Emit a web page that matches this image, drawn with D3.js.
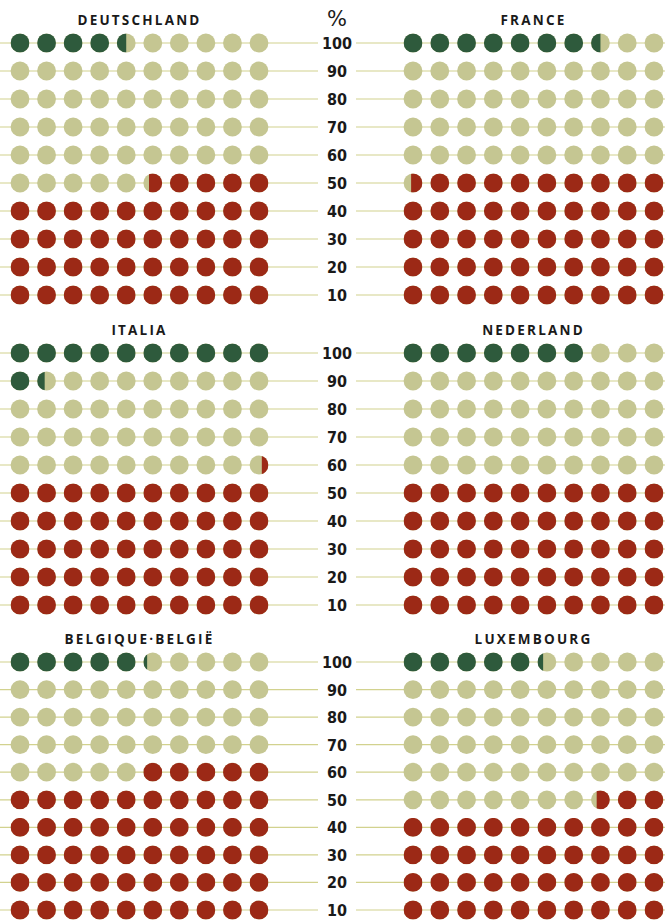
<!DOCTYPE html>
<html>
<head>
<meta charset="utf-8">
<script src="https://cdn.jsdelivr.net/npm/d3@7"></script>
<style>
  body { margin: 0; background: #fff; }
  .title { font-family: "Open Sans", "DejaVu Sans", sans-serif; font-weight: 700; font-size: 13.5px; letter-spacing: 2.2px; fill: #1a1a1a; }
  .tick_lbl { font-family: "Liberation Sans Narrow", "DejaVu Sans Condensed", sans-serif; font-weight: 700; font-size: 16px; fill: #1a1a1a; }
  .pct { font-family: "DejaVu Sans", sans-serif; font-size: 21px; fill: #1a1a1a; }
</style>
</head>
<body>
<div id="dots"></div>
<script>
// data: share of each group in %, red fills from the bottom, green from the top
var countries = ["DEUTSCHLAND", "FRANCE", "ITALIA", "NEDERLAND", "BELGIQUE·BELGIË", "LUXEMBOURG"];
var redShare = [44.7, 49.6, 50.35, 50, 55, 42.7];
var greenShare = [4.5, 7.5, 11.4, 7, 5.2, 5.3];
var rowLabels = [100, 90, 80, 70, 60, 50, 40, 30, 20, 10];
var columns = [0, 1, 2, 3, 4, 5, 6, 7, 8, 9];

var width = 665, height = 922;
var r = 9.4;

var colGreen = "#2e5a3c", colBeige = "#c5c692", colRed = "#9c2916", colLine = "#d2d28e";

var svg = d3.select("#dots").append("svg")
  .attr("width", width)
  .attr("height", height);

var defs = svg.append("defs");

// x ranges for left and right column of panels
var x_left = d3.scalePoint().domain(columns).range([20, 259]);
var x_right = d3.scalePoint().domain(columns).range([413, 654]);
// y ranges for the three panel rows
var y_bands = [
  d3.scalePoint().domain(rowLabels).range([43, 295]),
  d3.scalePoint().domain(rowLabels).range([353, 605]),
  d3.scalePoint().domain(rowLabels).range([662, 910])
];

// horizontal rules and center labels
y_bands.forEach(function(y, bi) {
  rowLabels.forEach(function(lbl) {
    svg.append("line")
      .attr("x1", 0).attr("x2", 318)
      .attr("y1", y(lbl)).attr("y2", y(lbl))
      .attr("stroke", colLine).attr("stroke-width", 1.2);
    svg.append("line")
      .attr("x1", 356).attr("x2", width)
      .attr("y1", y(lbl)).attr("y2", y(lbl))
      .attr("stroke", colLine).attr("stroke-width", 1.2);
    svg.append("text")
      .attr("class", "tick_lbl")
      .attr("x", 337)
      .attr("y", y(lbl) + 6)
      .attr("text-anchor", "middle")
      .text(lbl);
  });
});

svg.append("text")
  .attr("class", "pct")
  .attr("x", 337).attr("y", 26)
  .attr("text-anchor", "middle")
  .text("%");

var clipId = 0;

countries.forEach(function(name, ci) {
  var x = (ci % 2 === 0) ? x_left : x_right;
  var y = y_bands[Math.floor(ci / 2)];

  svg.append("text")
    .attr("class", "title")
    .attr("x", (x(0) + x(9)) / 2)
    .attr("y", y(100) - 18)
    .attr("text-anchor", "middle")
    .text(name);

  var g = svg.append("g");

  rowLabels.forEach(function(lbl, ri) {
    var fromBottom = 9 - ri;
    columns.forEach(function(c) {
      var cx = x(c), cy = y(lbl);
      // red fills right-to-left in a row, green fills left-to-right
      var rf = Math.max(0, Math.min(1, redShare[ci] - (fromBottom * 10 + (9 - c))));
      var gf = Math.max(0, Math.min(1, greenShare[ci] - (ri * 10 + c)));

      g.append("circle").attr("cx", cx).attr("cy", cy).attr("r", r).attr("fill", colBeige);

      if (gf > 0) {
        var id = "clip" + (clipId++);
        defs.append("clipPath").attr("id", id).append("rect")
          .attr("x", cx - r).attr("y", cy - r)
          .attr("width", 2 * r * gf).attr("height", 2 * r);
        g.append("circle").attr("cx", cx).attr("cy", cy).attr("r", r)
          .attr("fill", colGreen).attr("clip-path", "url(#" + id + ")");
      }
      if (rf > 0) {
        var id2 = "clip" + (clipId++);
        defs.append("clipPath").attr("id", id2).append("rect")
          .attr("x", cx + r - 2 * r * rf).attr("y", cy - r)
          .attr("width", 2 * r * rf).attr("height", 2 * r);
        g.append("circle").attr("cx", cx).attr("cy", cy).attr("r", r)
          .attr("fill", colRed).attr("clip-path", "url(#" + id2 + ")");
      }
    });
  });
});
</script>
</body>
</html>
